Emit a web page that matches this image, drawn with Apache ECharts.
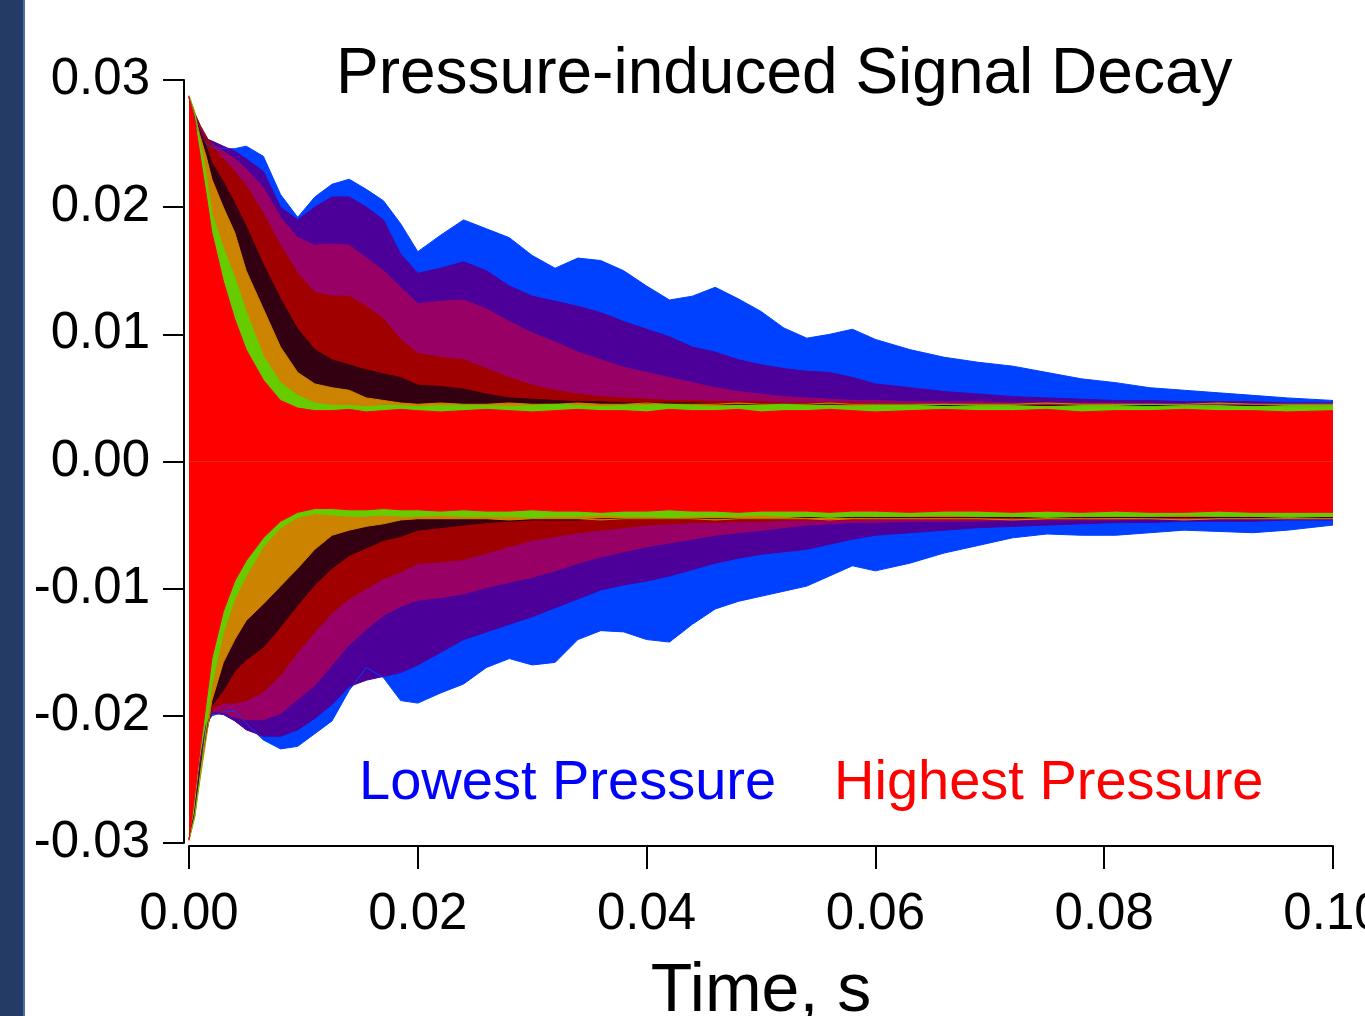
<!DOCTYPE html>
<html>
<head>
<meta charset="utf-8">
<script src="https://cdn.jsdelivr.net/npm/echarts@6/dist/echarts.min.js"></script>
<style>html,body{margin:0;padding:0;background:#fff;}#chart{width:1365px;height:1016px;}</style>
</head>
<body>
<div id="chart"></div>
<script>
// Time points (s) at which the envelope of each trace was read
const time = [0, 0.0005, 0.001, 0.0015, 0.002, 0.003, 0.004, 0.005, 0.0065, 0.008, 0.0095, 0.011, 0.0125, 0.014, 0.0155, 0.017, 0.0185, 0.020, 0.022, 0.024, 0.026, 0.028, 0.030, 0.032, 0.034, 0.036, 0.038, 0.040, 0.042, 0.044, 0.046, 0.048, 0.050, 0.052, 0.054, 0.056, 0.058, 0.060, 0.063, 0.066, 0.069, 0.072, 0.075, 0.078, 0.081, 0.084, 0.087, 0.090, 0.093, 0.096, 0.100];

// Upper envelopes (V), lowest pressure -> highest pressure
const blueUp = [0.0287,0.0268,0.0255,0.0250,0.0247,0.0246,0.0246,0.0248,0.0240,0.0210,0.0192,0.0208,0.0218,0.0222,0.0214,0.0205,0.0187,0.0165,0.0178,0.0190,0.0183,0.0176,0.0162,0.0152,0.0160,0.0158,0.0150,0.0138,0.0127,0.0130,0.0137,0.0128,0.0118,0.0105,0.0097,0.0100,0.0104,0.0096,0.0088,0.0082,0.0078,0.0075,0.0070,0.0065,0.0062,0.0058,0.0056,0.0054,0.0052,0.0050,0.0048];
const indigoUp = [0.0287,0.0270,0.0260,0.0254,0.0252,0.0248,0.0244,0.0238,0.0228,0.0200,0.0190,0.0200,0.0208,0.0208,0.0200,0.0190,0.0163,0.0148,0.0152,0.0157,0.0150,0.0138,0.0130,0.0126,0.0122,0.0117,0.0110,0.0104,0.0098,0.0090,0.0086,0.0080,0.0076,0.0073,0.0071,0.0070,0.0066,0.0061,0.0058,0.0055,0.0053,0.0051,0.0050,0.0049,0.0048,0.0048,0.0047,0.0047,0.0047,0.0046,0.0046];
const magentaUp = [0.0287,0.0272,0.0262,0.0255,0.0250,0.0244,0.0238,0.0230,0.0215,0.0192,0.0176,0.0170,0.0171,0.0170,0.0160,0.0150,0.0137,0.0124,0.0126,0.0127,0.0120,0.0110,0.0101,0.0094,0.0086,0.0080,0.0074,0.0070,0.0066,0.0062,0.0058,0.0055,0.0053,0.0051,0.0050,0.0049,0.0048,0.0048,0.0047,0.0047,0.0047,0.0046,0.0046,0.0046,0.0046,0.0045,0.0045,0.0045,0.0045,0.0045,0.0045];
const darkRedUp = [0.0287,0.0274,0.0264,0.0256,0.0248,0.0238,0.0228,0.0217,0.0195,0.0170,0.0148,0.0133,0.0130,0.0130,0.0122,0.0112,0.0096,0.0085,0.0082,0.0080,0.0073,0.0066,0.0060,0.0056,0.0053,0.0051,0.0050,0.0049,0.0048,0.0048,0.0047,0.0047,0.0047,0.0046,0.0046,0.0046,0.0046,0.0045,0.0045,0.0045,0.0045,0.0045,0.0045,0.0045,0.0044,0.0044,0.0044,0.0044,0.0044,0.0044,0.0044];
const brownUp = [0.0286,0.0272,0.0258,0.0248,0.0235,0.0220,0.0203,0.0185,0.0155,0.0128,0.0104,0.0088,0.0080,0.0076,0.0072,0.0069,0.0066,0.0060,0.0059,0.0057,0.0053,0.0050,0.0049,0.0048,0.0047,0.0047,0.0046,0.0046,0.0046,0.0046,0.0045,0.0045,0.0045,0.0045,0.0045,0.0045,0.0045,0.0045,0.0045,0.0044,0.0044,0.0044,0.0044,0.0044,0.0044,0.0044,0.0044,0.0044,0.0044,0.0044,0.0044];
const orangeUp = [0.0286,0.0272,0.0255,0.0240,0.0222,0.0200,0.0180,0.0150,0.0120,0.0090,0.0070,0.0061,0.0058,0.0056,0.0050,0.0048,0.0046,0.0045,0.0046,0.0045,0.0045,0.0046,0.0045,0.0045,0.0046,0.0045,0.0045,0.0046,0.0045,0.0045,0.0045,0.0046,0.0045,0.0045,0.0045,0.0046,0.0045,0.0045,0.0045,0.0045,0.0045,0.0045,0.0046,0.0045,0.0045,0.0045,0.0045,0.0046,0.0045,0.0045,0.0045];
const greenUp = [0.0288,0.0275,0.0250,0.0225,0.0195,0.0168,0.0145,0.0118,0.0083,0.0062,0.0052,0.0046,0.0044,0.0044,0.0043,0.0044,0.0044,0.0043,0.0044,0.0044,0.0044,0.0043,0.0044,0.0045,0.0044,0.0043,0.0044,0.0044,0.0045,0.0044,0.0043,0.0044,0.0044,0.0045,0.0044,0.0044,0.0043,0.0044,0.0044,0.0045,0.0044,0.0044,0.0043,0.0044,0.0044,0.0045,0.0044,0.0044,0.0043,0.0044,0.0044];
const redUp = [0.0287,0.0268,0.0239,0.0210,0.0180,0.0142,0.0112,0.0088,0.0064,0.0048,0.0042,0.0040,0.0040,0.0041,0.0039,0.0040,0.0041,0.0040,0.0039,0.0040,0.0041,0.0040,0.0039,0.0040,0.0041,0.0040,0.0040,0.0039,0.0041,0.0040,0.0040,0.0041,0.0039,0.0040,0.0040,0.0041,0.0040,0.0039,0.0040,0.0041,0.0040,0.0040,0.0041,0.0039,0.0040,0.0040,0.0041,0.0040,0.0040,0.0039,0.0040];

// Lower envelopes (V)
const blueLo = [-0.0297,-0.0276,-0.0234,-0.0207,-0.0200,-0.0197,-0.0196,-0.0206,-0.0219,-0.0226,-0.0224,-0.0214,-0.0204,-0.0180,-0.0162,-0.0170,-0.0188,-0.0190,-0.0182,-0.0175,-0.0162,-0.0155,-0.0160,-0.0158,-0.0140,-0.0133,-0.0134,-0.0140,-0.0142,-0.0128,-0.0116,-0.0110,-0.0106,-0.0102,-0.0098,-0.0090,-0.0082,-0.0086,-0.0080,-0.0072,-0.0066,-0.0060,-0.0057,-0.0058,-0.0058,-0.0056,-0.0054,-0.0055,-0.0056,-0.0054,-0.0050];
const indigoLo = [-0.0297,-0.0276,-0.0235,-0.0208,-0.0198,-0.0199,-0.0204,-0.0211,-0.0216,-0.0216,-0.0211,-0.0202,-0.0191,-0.0177,-0.0172,-0.0169,-0.0166,-0.0160,-0.0150,-0.0140,-0.0134,-0.0128,-0.0122,-0.0115,-0.0108,-0.0101,-0.0097,-0.0094,-0.0090,-0.0085,-0.0080,-0.0076,-0.0073,-0.0071,-0.0069,-0.0065,-0.0061,-0.0058,-0.0056,-0.0054,-0.0052,-0.0051,-0.0050,-0.0049,-0.0048,-0.0048,-0.0047,-0.0047,-0.0047,-0.0046,-0.0046];
const magentaLo = [-0.0297,-0.0277,-0.0236,-0.0210,-0.0197,-0.0197,-0.0201,-0.0203,-0.0203,-0.0198,-0.0187,-0.0176,-0.0160,-0.0144,-0.0132,-0.0121,-0.0114,-0.0109,-0.0107,-0.0104,-0.0099,-0.0095,-0.0091,-0.0086,-0.0080,-0.0075,-0.0071,-0.0067,-0.0064,-0.0061,-0.0058,-0.0056,-0.0054,-0.0052,-0.0050,-0.0049,-0.0048,-0.0048,-0.0047,-0.0047,-0.0047,-0.0046,-0.0046,-0.0046,-0.0046,-0.0045,-0.0045,-0.0045,-0.0045,-0.0045,-0.0045];
const darkRedLo = [-0.0297,-0.0277,-0.0238,-0.0212,-0.0195,-0.0190,-0.0190,-0.0188,-0.0181,-0.0168,-0.0150,-0.0134,-0.0119,-0.0108,-0.0100,-0.0092,-0.0087,-0.0080,-0.0079,-0.0077,-0.0072,-0.0067,-0.0062,-0.0059,-0.0056,-0.0054,-0.0052,-0.0050,-0.0049,-0.0048,-0.0048,-0.0047,-0.0047,-0.0046,-0.0046,-0.0046,-0.0046,-0.0045,-0.0045,-0.0045,-0.0045,-0.0045,-0.0045,-0.0045,-0.0044,-0.0044,-0.0044,-0.0044,-0.0044,-0.0044,-0.0044];
const brownLo = [-0.0297,-0.0278,-0.0240,-0.0215,-0.0192,-0.0180,-0.0165,-0.0156,-0.0146,-0.0130,-0.0113,-0.0097,-0.0084,-0.0074,-0.0068,-0.0062,-0.0059,-0.0054,-0.0052,-0.0050,-0.0048,-0.0047,-0.0046,-0.0046,-0.0046,-0.0045,-0.0045,-0.0045,-0.0045,-0.0045,-0.0045,-0.0045,-0.0045,-0.0045,-0.0044,-0.0044,-0.0044,-0.0044,-0.0044,-0.0044,-0.0044,-0.0044,-0.0044,-0.0044,-0.0044,-0.0044,-0.0044,-0.0044,-0.0044,-0.0044,-0.0044];
const orangeLo = [-0.0297,-0.0279,-0.0248,-0.0218,-0.0188,-0.0158,-0.0140,-0.0125,-0.0112,-0.0098,-0.0084,-0.0069,-0.0058,-0.0054,-0.0051,-0.0049,-0.0046,-0.0045,-0.0045,-0.0045,-0.0045,-0.0046,-0.0045,-0.0045,-0.0045,-0.0046,-0.0045,-0.0045,-0.0045,-0.0045,-0.0046,-0.0045,-0.0045,-0.0045,-0.0045,-0.0046,-0.0045,-0.0045,-0.0045,-0.0045,-0.0045,-0.0046,-0.0045,-0.0045,-0.0045,-0.0045,-0.0046,-0.0045,-0.0045,-0.0045,-0.0045];
const greenLo = [-0.0298,-0.0280,-0.0245,-0.0210,-0.0175,-0.0135,-0.0108,-0.0090,-0.0067,-0.0052,-0.0044,-0.0041,-0.0042,-0.0043,-0.0043,-0.0042,-0.0043,-0.0043,-0.0042,-0.0043,-0.0043,-0.0043,-0.0044,-0.0043,-0.0043,-0.0042,-0.0043,-0.0043,-0.0044,-0.0043,-0.0043,-0.0043,-0.0042,-0.0043,-0.0043,-0.0044,-0.0043,-0.0043,-0.0043,-0.0042,-0.0043,-0.0043,-0.0044,-0.0043,-0.0043,-0.0043,-0.0042,-0.0043,-0.0043,-0.0044,-0.0043];
const redLo = [-0.0298,-0.0262,-0.0224,-0.0190,-0.0155,-0.0118,-0.0094,-0.0078,-0.0060,-0.0047,-0.0040,-0.0037,-0.0037,-0.0038,-0.0038,-0.0037,-0.0038,-0.0038,-0.0039,-0.0038,-0.0039,-0.0039,-0.0038,-0.0039,-0.0039,-0.0040,-0.0039,-0.0039,-0.0038,-0.0039,-0.0039,-0.0040,-0.0039,-0.0039,-0.0039,-0.0040,-0.0039,-0.0039,-0.0040,-0.0039,-0.0039,-0.0040,-0.0039,-0.0040,-0.0039,-0.0040,-0.0040,-0.0039,-0.0040,-0.0040,-0.0040];

const traceNames = ['p1','p2','p3','p4','p5','p6','p7','p8'];
const traceColors = ['#0040ff','#4d0099','#990066','#a00000','#330011','#cc8400','#66cc00','#ff0000'];
const upper = [blueUp, indigoUp, magentaUp, darkRedUp, brownUp, orangeUp, greenUp, redUp];
const lower = [blueLo, indigoLo, magentaLo, darkRedLo, brownLo, orangeLo, greenLo, redLo];

const FONT = '"Liberation Sans", Arial, Helvetica, sans-serif';

function band(name, color, vals) {
  return {
    name: name, type: 'line', showSymbol: false, symbol: 'none',
    data: time.map((t, i) => [t, vals[i]]),
    lineStyle: { color: color, width: 1 },
    itemStyle: { color: color },
    areaStyle: { color: color, opacity: 1 },
    silent: true
  };
}
const series = [];
traceNames.forEach((n, k) => {
  series.push(band(n + '_up', traceColors[k], upper[k]));
  series.push(band(n + '_lo', traceColors[k], lower[k]));
});

const fmt = v => (Math.abs(v) < 1e-9 ? 0 : v).toFixed(2);

const chart = echarts.init(document.getElementById('chart'), null, { renderer: 'canvas' });
chart.setOption({
  animation: false,
  backgroundColor: '#ffffff',
  grid: { left: 189, right: 32, top: 80, bottom: 173, containLabel: false, outerBoundsMode: 'none' },
  xAxis: {
    type: 'value', min: 0, max: 0.1, interval: 0.02, offset: 3,
    axisLine: { onZero: false, lineStyle: { color: '#000', width: 2 } },
    axisTick: { length: 23, lineStyle: { color: '#000', width: 2 } },
    axisLabel: { fontSize: 51, color: '#000', fontFamily: FONT, margin: 43, formatter: fmt, hideOverlap: false },
    splitLine: { show: false },
    name: 'Time, s', nameLocation: 'middle', nameGap: 112,
    nameTextStyle: { fontSize: 68, color: '#000', fontFamily: FONT }
  },
  yAxis: {
    type: 'value', min: -0.03, max: 0.03, interval: 0.01, offset: 5,
    axisLine: { onZero: false, lineStyle: { color: '#000', width: 2 } },
    axisTick: { length: 21, lineStyle: { color: '#000', width: 2 } },
    axisLabel: { fontSize: 51, color: '#000', fontFamily: FONT, margin: 34, formatter: fmt },
    splitLine: { show: false }
  },
  series: series,
  graphic: [
    { type: 'rect', left: 0, top: 0, shape: { width: 23, height: 1016 }, style: { fill: '#243b65' }, z: 100 },
    { type: 'rect', left: 23, top: 0, shape: { width: 2, height: 1016 }, style: { fill: '#4a6ea8' }, z: 100 },
    { type: 'text', left: 336, top: 43, style: { text: 'Pressure-induced Signal Decay', font: '64px ' + FONT, fill: '#000' }, z: 100 },
    { type: 'text', left: 359, top: 756, style: { text: 'Lowest Pressure', font: '56px ' + FONT, fill: '#0000ff' }, z: 100 },
    { type: 'text', left: 834, top: 756, style: { text: 'Highest Pressure', font: '56px ' + FONT, fill: '#ff0000' }, z: 100 }
  ]
});
</script>
</body>
</html>
